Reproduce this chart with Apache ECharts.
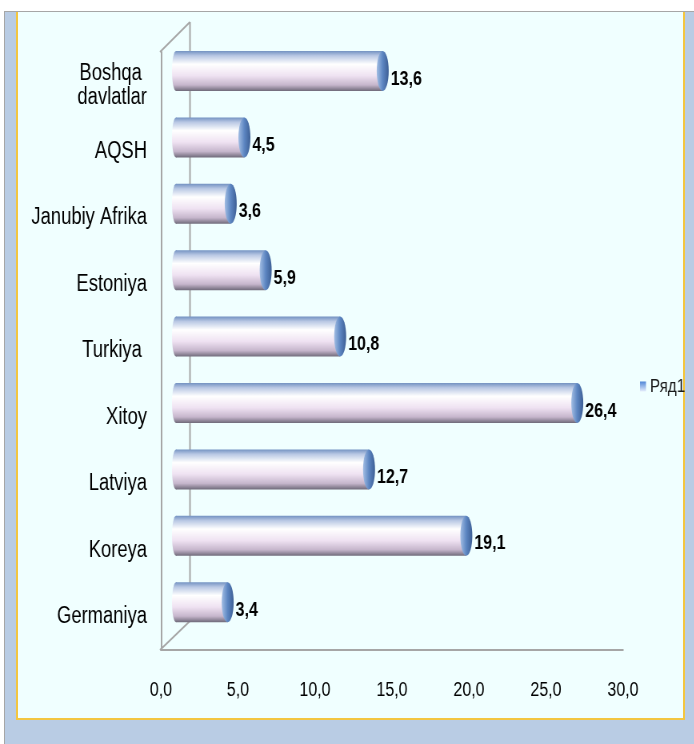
<!DOCTYPE html>
<html>
<head>
<meta charset="utf-8">
<script src="https://cdn.jsdelivr.net/npm/echarts@6/dist/echarts.min.js"></script>
<style>
  body { margin: 0; background: #ffffff; overflow: hidden; }
  #frame { position: absolute; left: 4px; top: 11px; width: 690px; height: 733px; background: #b9cce4; border-top: 1px solid #a6a6a6; border-left: 1px solid #a6a6a6; box-sizing: border-box; }
  #panel { position: absolute; left: 16px; top: 12px; width: 669px; height: 708px; background: #f0ffff; border-left: 2px solid #f3c641; border-right: 2px solid #f3c641; border-bottom: 2px solid #f3c641; box-sizing: border-box; }
  /* исходная картинка сжата по горизонтали, поэтому сжимаем холст */
  #chart { position: absolute; left: 0; top: 0; width: 867.5px; height: 744px; transform: scaleX(0.8); transform-origin: 0 0; }
</style>
</head>
<body>
<div id="frame"></div>
<div id="panel"></div>
<div id="chart"></div>
<script>
// данные (снизу вверх)
var categories = ['Germaniya', 'Koreya', 'Latviya', 'Xitoy', 'Turkiya ', 'Estoniya', 'Janubiy Afrika', 'AQSH', 'Boshqa \ndavlatlar'];
var values = [3.4, 19.1, 12.7, 26.4, 10.8, 5.9, 3.6, 4.5, 13.6];
var seriesName = 'Ряд1';

var SX = 0.8; // горизонтальное сжатие
function px(x) { return x / SX; }

var FONT = '"Liberation Sans", Arial, sans-serif';

function fmt(v) {
    return v.toFixed(1).replace('.', ',');
}

var bodyColor = new echarts.graphic.LinearGradient(0, 0, 0, 1, [
    { offset: 0, color: '#7392c2' },
    { offset: 0.12, color: '#b9c8e4' },
    { offset: 0.33, color: '#ffffff' },
    { offset: 0.62, color: '#efe2f2' },
    { offset: 0.85, color: '#c6b6cc' },
    { offset: 1, color: '#6f6a7a' }
]);
var capColor = new echarts.graphic.LinearGradient(0, 0, 1, 0, [
    { offset: 0, color: '#a3bee4' },
    { offset: 0.5, color: '#5d86c2' },
    { offset: 1, color: '#3d5f95' }
]);

function renderBar(params, api) {
    var idx = api.value(1);
    var v = api.value(0);
    var start = api.coord([0, idx]);
    var end = api.coord([v, idx]);
    var h = 40, rx = px(6), rxl = px(4);
    var cy = start[1];
    return {
        type: 'group',
        children: [
            { type: 'ellipse', shape: { cx: start[0], cy: cy, rx: rxl, ry: h / 2 }, style: { fill: bodyColor } },
            { type: 'rect', shape: { x: start[0], y: cy - h / 2, width: end[0] - start[0], height: h }, style: { fill: bodyColor } },
            { type: 'ellipse', shape: { cx: end[0], cy: cy, rx: rx, ry: h / 2 }, style: { fill: capColor } },
            { type: 'text', style: { text: fmt(v), x: end[0] + rx + px(2), y: cy + 8, verticalAlign: 'middle', align: 'left',
                font: 'bold 20px ' + FONT, fill: '#000000' } }
        ]
    };
}

var myChart = echarts.init(document.getElementById('chart'));

var option = {
    animation: false,
    legend: {
        data: [seriesName],
        left: px(636), top: 372,
        icon: 'rect', itemWidth: px(6), itemHeight: 10, itemGap: 4,
        textStyle: { fontFamily: FONT, fontSize: 19, color: '#1a1a1a' }
    },
    grid: [
        // передняя плоскость: подписи и оси
        { left: px(161), top: 52, width: px(462), height: 598, containLabel: false },
        // середина глубины: столбики
        { left: px(176), top: 37.8, width: px(456), height: 597.6, containLabel: false }
    ],
    xAxis: [
        {
            gridIndex: 0, type: 'value', min: 0, max: 30, interval: 5,
            axisLine: { show: true, lineStyle: { color: '#a6a6a6', width: 2 } },
            axisTick: { show: false }, splitLine: { show: false },
            axisLabel: { margin: 30, fontFamily: FONT, fontSize: 20, color: '#000', formatter: function (v) { return fmt(v); } }
        },
        { gridIndex: 1, type: 'value', min: 0, max: 30, show: false }
    ],
    yAxis: [
        {
            gridIndex: 0, type: 'category', data: categories,
            axisLine: { show: true, lineStyle: { color: '#a6a6a6', width: 2 } },
            axisTick: { show: false },
            axisLabel: { margin: px(14), fontFamily: FONT, fontSize: 23, lineHeight: 24, color: '#000' }
        },
        { gridIndex: 1, type: 'category', data: categories, show: false }
    ],
    graphic: [
        { type: 'line', z: 1, shape: { x1: px(190), y1: 22, x2: px(190), y2: 621 }, style: { stroke: '#a6a6a6', lineWidth: 2 } },
        { type: 'line', z: 1, shape: { x1: px(160), y1: 52, x2: px(190), y2: 22 }, style: { stroke: '#a6a6a6', lineWidth: 2 } },
        { type: 'line', z: 1, shape: { x1: px(160), y1: 650, x2: px(190), y2: 621 }, style: { stroke: '#a6a6a6', lineWidth: 2 } }
    ],
    series: [{
        name: seriesName,
        type: 'custom',
        xAxisIndex: 1, yAxisIndex: 1,
        z: 5,
        itemStyle: { color: new echarts.graphic.LinearGradient(0, 0, 0, 1, [
            { offset: 0, color: '#4f86d8' }, { offset: 1, color: '#e6eefc' }
        ]) },
        renderItem: renderBar,
        data: values.map(function (v, i) { return [v, i]; })
    }]
};

myChart.setOption(option);
</script>
</body>
</html>
